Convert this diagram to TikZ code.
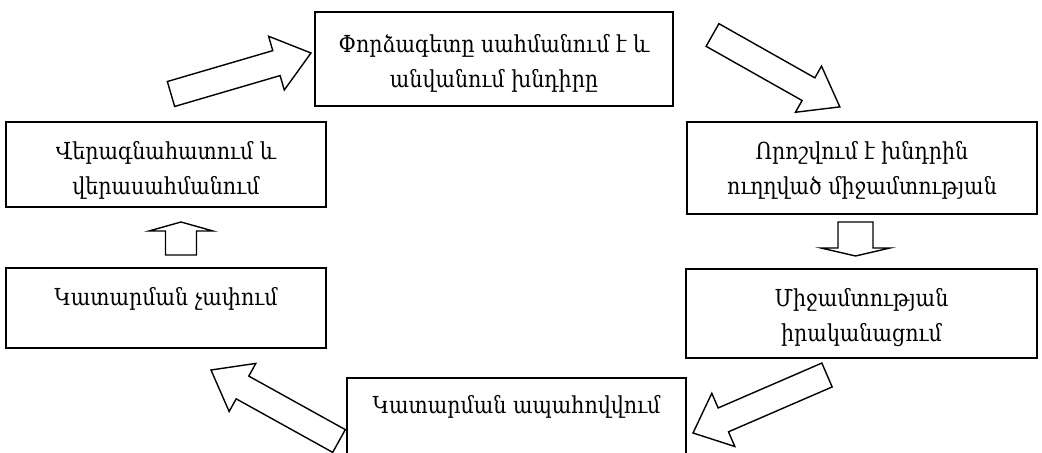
\documentclass[tikz,border=0pt]{standalone}
\usepackage{fontspec}
\setmainfont[FakeStretch=0.88]{DejaVu Serif}
\usetikzlibrary{calc}
\newcommand\blockarrow[5]{% tail, tip, shaft width, head width, head length (px)
  \path let \p1=($(#2)-(#1)$) in \pgfextra{%
    \pgfmathsetmacro\baAng{atan2(\y1,\x1)}%
    \pgfmathsetmacro\baLen{veclen(\x1,\y1)}%
    \xdef\baAng{\baAng}\xdef\baLen{\baLen}};
  \draw[arrowline, shift={(#1)}, rotate=\baAng]
    (0pt,{-#3*0.25pt}) -- ({\baLen pt-#5*0.5pt},{-#3*0.25pt})
    -- ({\baLen pt-#5*0.5pt},{-#4*0.25pt}) -- (\baLen pt,0pt)
    -- ({\baLen pt-#5*0.5pt},{#4*0.25pt}) -- ({\baLen pt-#5*0.5pt},{#3*0.25pt})
    -- (0pt,{#3*0.25pt}) -- cycle;
}
\begin{document}
\begin{tikzpicture}[x=0.5pt,y=-0.5pt,
  box/.style={draw=black, line width=0.7pt, inner sep=0pt},
  arrowline/.style={draw=black, line width=0.7pt, line join=miter, fill=white},
  txt/.style={inner sep=0pt, align=center, font=\fontsize{11.7}{17.5}\selectfont}]
\path[use as bounding box, clip] (0,0) rectangle (1042,453);
% boxes
\node[box, minimum width=179pt, minimum height=47pt] (top) at (494,59) {};
\node[box, minimum width=175pt, minimum height=46pt] (r1) at (862,168) {};
\node[box, minimum width=175.5pt, minimum height=44.5pt] (r2) at (861.5,313.5) {};
\node[box, minimum width=169.5pt, minimum height=46pt] (bot) at (516.5,424) {};
\node[box, minimum width=160pt, minimum height=42.5pt] (l1) at (166,164.5) {};
\node[box, minimum width=160pt, minimum height=40pt] (l2) at (166,308) {};
% texts
\node[txt, anchor=north] (ttop) at ($(top.north)+(0,23)$) {Փորձագետը սահմանում է և\\անվանում խնդիրը};
\node[txt, anchor=north] (tr1) at ($(r1.north)+(0,20)$) {Որոշվում է խնդրին\\ուղղված միջամտության};
\node[txt, anchor=north] (tr2) at ($(r2.north)+(0,20)$) {Միջամտության\\իրականացում};
\node[txt, anchor=north] (tbot) at ($(bot.north)+(0,18)$) {Կատարման ապահովվում};
\node[txt, anchor=north] (tl1) at ($(l1.north)+(0,20)$) {Վերագնահատում և\\վերասահմանում};
\node[txt, anchor=north] (tl2) at ($(l2.north)+(0,20)$) {Կատարման չափում};
% arrow end points
\coordinate (a1s) at (171,94);   \coordinate (a1e) at (311,53);
\coordinate (a2s) at (712.5,35); \coordinate (a2e) at (840,107);
\coordinate (a3s) at (827,375);  \coordinate (a3e) at (693,433);
\coordinate (a4s) at (339,441);  \coordinate (a4e) at (211,370);
\coordinate (aus) at (181,255);  \coordinate (aue) at (181,222);
\coordinate (ads) at (855.5,222);\coordinate (ade) at (855.5,256);
\blockarrow{a1s}{a1e}{26}{56}{36}
\blockarrow{a2s}{a2e}{26}{53}{36}
\blockarrow{a3s}{a3e}{26}{58}{33}
\blockarrow{a4s}{a4e}{26}{55}{36}
\blockarrow{aus}{aue}{31}{64}{9}
\blockarrow{ads}{ade}{35}{69}{8}
\end{tikzpicture}
\end{document}
